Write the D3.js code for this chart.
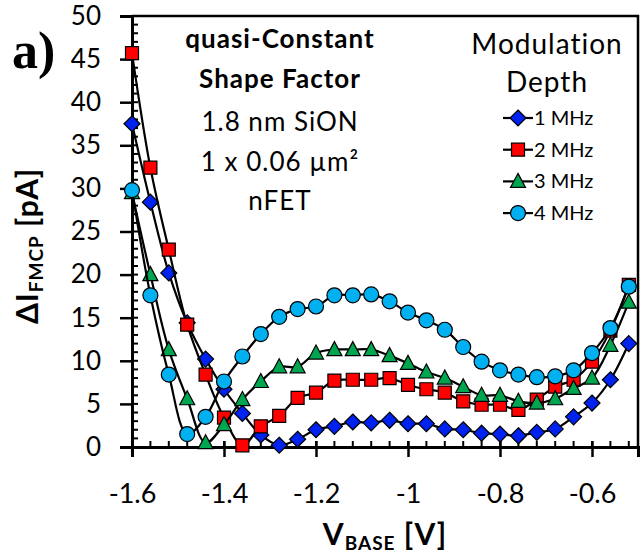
<!DOCTYPE html>
<html>
<head>
<meta charset="utf-8">
<script src="https://cdn.jsdelivr.net/npm/d3@7"></script>
<style>
  body { margin: 0; background: #fff; }
  svg { display: block; }
</style>
</head>
<body>
<div class="canvas"></div>
<script>
// base voltage sweep (V)
var vbase = [-1.60, -1.56, -1.52, -1.48, -1.44, -1.40, -1.36, -1.32, -1.28, -1.24,
             -1.20, -1.16, -1.12, -1.08, -1.04, -1.00, -0.96, -0.92, -0.88, -0.84,
             -0.80, -0.76, -0.72, -0.68, -0.64, -0.60, -0.56, -0.52];

// delta I_FMCP (pA) for each modulation frequency
var mhz1 = [37.5, 28.4, 20.2, 14.4, 10.2, 6.7, 3.9, 1.4, 0.2, 0.9,
            2.0, 2.4, 2.9, 2.8, 3.1, 2.7, 2.7, 2.1, 2.0, 1.6,
            1.5, 1.3, 1.7, 2.1, 3.5, 5.1, 7.8, 12.0];
var mhz2 = [45.7, 32.4, 22.9, 14.2, 8.4, 3.4, 0.2, 2.4, 3.6, 5.7,
            6.3, 7.7, 7.8, 7.8, 8.0, 7.2, 6.7, 6.3, 5.3, 4.9,
            4.9, 4.3, 5.5, 7.0, 7.8, 9.9, 13.5, 18.8];
var mhz3 = [29.5, 20.0, 11.3, 5.6, 0.5, 2.6, 5.5, 7.6, 9.3, 9.3,
            10.9, 11.3, 11.3, 11.3, 10.6, 9.7, 8.7, 8.0, 7.0, 6.0,
            6.0, 5.3, 5.1, 5.6, 6.8, 8.0, 11.8, 16.8];
var mhz4 = [29.8, 17.6, 8.4, 1.5, 3.5, 7.6, 10.5, 13.1, 15.1, 16.0,
            16.3, 17.6, 17.6, 17.7, 16.9, 15.6, 14.7, 13.6, 11.6, 9.9,
            8.9, 8.4, 8.1, 8.2, 8.9, 10.9, 13.8, 18.6];

var seriesNames = ["1 MHz", "2 MHz", "3 MHz", "4 MHz"];
var xTicks = [-1.6, -1.4, -1.2, -1.0, -0.8, -0.6];
var xTickLabels = ["-1.6", "-1.4", "-1.2", "-1", "-0.8", "-0.6"];
var yTicks = [0, 5, 10, 15, 20, 25, 30, 35, 40, 45, 50];
var notes = ["quasi-Constant", "Shape Factor", "1.8 nm SiON", "1 x 0.06 \u00b5m\u00b2", "nFET"];

var W = 642, H = 558;
var margin = {top: 16, right: 4, bottom: 111, left: 132};

var svg = d3.select(".canvas")
    .append("svg")
    .attr("width", W)
    .attr("height", H);

var font = "Lato, 'Open Sans', sans-serif";

var x = d3.scaleLinear()
    .domain([-1.6, -0.5])
    .range([margin.left, W - margin.right]);
var y = d3.scaleLinear()
    .domain([0, 50])
    .range([H - margin.bottom, margin.top]);

// plot frame (top + right)
svg.append("path")
    .attr("d", `M${x(-1.6)},${y(50)}H${x(-0.5)}V${y(0)}`)
    .attr("fill", "none")
    .attr("stroke", "black")
    .attr("stroke-width", 2.5);

// minor ticks (inside)
var xMinor = d3.range(0, 28).map(i => -1.6 + i * 0.04);
svg.append("g")
    .selectAll("line")
    .data(xMinor)
    .enter()
    .append("line")
      .attr("x1", d => x(d)).attr("x2", d => x(d))
      .attr("y1", y(0)).attr("y2", y(0) - 6)
      .attr("stroke", "black").attr("stroke-width", 2);
svg.append("g")
    .selectAll("line")
    .data(d3.range(0, 51))
    .enter()
    .append("line")
      .attr("y1", d => y(d)).attr("y2", d => y(d))
      .attr("x1", x(-1.6)).attr("x2", x(-1.6) + 6)
      .attr("stroke", "black").attr("stroke-width", 2);

// X axis
var gx = svg.append("g")
    .attr("transform", `translate(0,${y(0)})`)
    .call(d3.axisBottom(x).tickValues(xTicks).tickSize(10).tickPadding(27)
        .tickFormat((d, i) => xTickLabels[i]));
gx.select(".domain").attr("stroke-width", 3);
gx.selectAll(".tick line").attr("y1", -6).attr("stroke-width", 2.5);
gx.selectAll("text")
    .style("font-family", font)
    .style("font-size", "27px")
    .attr("fill", "black");

// Y axis
var gy = svg.append("g")
    .attr("transform", `translate(${x(-1.6)},0)`)
    .call(d3.axisLeft(y).tickValues(yTicks).tickSize(12).tickPadding(19));
gy.select(".domain").attr("stroke-width", 3);
gy.selectAll(".tick line").attr("stroke-width", 2.5);
gy.selectAll("text")
    .style("font-family", font)
    .style("font-size", "26px")
    .attr("fill", "black");

// axis titles
var xt = svg.append("text")
    .attr("x", 385)
    .attr("y", 545)
    .attr("text-anchor", "middle")
    .style("font-family", font)
    .style("font-weight", "bold")
    .style("letter-spacing", "1px")
    .style("font-size", "30px");
xt.append("tspan").text("V");
xt.append("tspan").attr("dy", 5).style("font-size", "19px").text("BASE");
xt.append("tspan").attr("dy", -5).text(" [V]");

var yt = svg.append("text")
    .attr("transform", "translate(38,246) rotate(-90)")
    .attr("text-anchor", "middle")
    .style("font-family", font)
    .style("font-weight", "bold")
    .style("letter-spacing", "1px")
    .style("font-size", "30px");
yt.append("tspan").text("\u0394I");
yt.append("tspan").attr("dy", 5).style("font-size", "19px").text("FMCP");
yt.append("tspan").attr("dy", -5).text(" [pA]");

// panel label
svg.append("text")
    .attr("x", 12)
    .attr("y", 68)
    .text("a)")
    .style("font-family", "'Liberation Serif', 'Times New Roman', serif")
    .style("font-weight", "bold")
    .style("font-size", "52px");

// annotation
var noteY = [48, 88, 131, 171, 210];
svg.selectAll(".note")
    .data(notes)
    .enter()
    .append("text")
      .attr("class", "note")
      .attr("x", 280)
      .attr("y", (d, i) => noteY[i])
      .attr("text-anchor", "middle")
      .style("font-family", font)
      .style("font-size", "26px")
      .style("letter-spacing", "1px")
      .style("font-weight", (d, i) => i < 2 ? "bold" : "normal")
      .text(d => d);

// series
var series = [
  {name: seriesNames[0], values: mhz1, fill: "#0022ee", shape: "diamond"},
  {name: seriesNames[1], values: mhz2, fill: "#ff0000", shape: "square"},
  {name: seriesNames[2], values: mhz3, fill: "#00a550", shape: "triangle"},
  {name: seriesNames[3], values: mhz4, fill: "#00b0f0", shape: "circle"}
];

function markerPath(shape) {
  if (shape === "diamond") return "M0,-8L8,0L0,8L-8,0Z";
  if (shape === "square") return "M-6.5,-6.5H6.5V6.5H-6.5Z";
  if (shape === "triangle") return "M0,-8L7.5,6L-7.5,6Z";
  return d3.symbol().type(d3.symbolCircle).size(Math.PI * 7.5 * 7.5)();
}

var line = d3.line()
    .x((d, i) => x(vbase[i]))
    .y(d => y(d))
    .curve(d3.curveCatmullRom);

series.forEach(s => {
  var g = svg.append("g");
  g.append("path")
      .attr("d", line(s.values))
      .attr("fill", "none")
      .attr("stroke", "black")
      .attr("stroke-width", 2.2);
  g.selectAll("path.mk")
    .data(s.values)
    .enter()
    .append("path")
      .attr("class", "mk")
      .attr("d", markerPath(s.shape))
      .attr("transform", (d, i) => `translate(${x(vbase[i])},${y(d)})`)
      .attr("fill", s.fill)
      .attr("stroke", "black")
      .attr("stroke-width", 1.2);
});

// legend
var lgX = 547;
svg.append("text")
    .attr("x", lgX).attr("y", 54)
    .attr("text-anchor", "middle")
    .style("font-family", font).style("font-size", "28px")
    .style("letter-spacing", "1px")
    .text("Modulation");
svg.append("text")
    .attr("x", lgX).attr("y", 92)
    .attr("text-anchor", "middle")
    .style("font-family", font).style("font-size", "28px")
    .style("letter-spacing", "1px")
    .text("Depth");

var lg = svg.selectAll(".lg")
    .data(series)
    .enter()
    .append("g")
      .attr("class", "lg")
      .attr("transform", (d, i) => `translate(518,${118 + i * 31.7})`);
lg.append("line")
    .attr("x1", -15).attr("x2", 15)
    .attr("stroke", "black").attr("stroke-width", 2.2);
lg.append("path")
    .attr("d", d => markerPath(d.shape))
    .attr("fill", d => d.fill)
    .attr("stroke", "black")
    .attr("stroke-width", 1.2);
lg.append("text")
    .attr("x", 16).attr("y", 7)
    .style("font-family", font).style("font-size", "20px")
    .text(d => d.name);
</script>
</body>
</html>
